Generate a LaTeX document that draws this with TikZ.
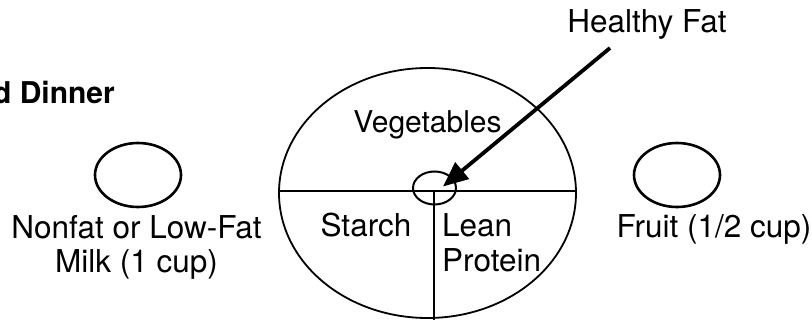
\documentclass[tikz,border=0pt]{standalone}
\usepackage{fontspec}
\setmainfont{TeX Gyre Heros}
\usetikzlibrary{shapes.geometric,arrows.meta}
\begin{document}
\begin{tikzpicture}[x=1pt,y=-1pt,
  lbl/.style={anchor=base,inner sep=0pt,font=\fontsize{31.5}{38}\selectfont},
  plateline/.style={line width=1.8pt},
  cup/.style={ellipse,draw,line width=2.6pt,inner sep=0pt,minimum width=86pt,minimum height=64pt},
  fatarrow/.style={line width=3.8pt,-{Triangle[length=25pt,width=21pt]}}]
\clip (0,0) rectangle (812,320);
% plate
\node[ellipse,draw,plateline,inner sep=0pt,minimum width=297pt,minimum height=250pt] (plate) at (427.5,193) {};
\coordinate (hl) at (279,191);
\coordinate (hr) at (576,191);
\coordinate (vt) at (434,191);
\coordinate (vb) at (434,325);
\draw[plateline] (hl) -- (hr);
\draw[plateline] (vt) -- (vb);
\node[ellipse,draw,line width=2pt,inner sep=0pt,minimum width=43pt,minimum height=33pt] (fat) at (434.5,188) {};
% cups
\node[cup] (milk) at (138,175) {};
\node[cup] (fruit) at (677,175) {};
% texts
\node[lbl,anchor=base east,font=\fontsize{30}{36}\selectfont\bfseries] (title) at (115,104) {d Dinner};
\node[lbl] (hf) at (647,33) {Healthy Fat};
\node[lbl,font=\fontsize{30}{36}\selectfont] (veg) at (427.5,133) {Vegetables};
\node[lbl] (starch) at (366,237) {Starch};
\node[lbl,anchor=base west] (lean1) at (442,237) {Lean};
\node[lbl,anchor=base west] (lean2) at (442,272) {Protein};
\node[lbl] (milk1) at (136.5,239) {Nonfat or Low-Fat};
\node[lbl] (milk2) at (136.5,273) {Milk (1 cup)};
\node[lbl] (fruittxt) at (714,238) {Fruit (1/2 cup)};
% arrow
\coordinate (tail) at (610,48);
\coordinate (tip) at (443,186.5);
\draw[fatarrow] (tail) -- (tip);
\end{tikzpicture}
\end{document}
